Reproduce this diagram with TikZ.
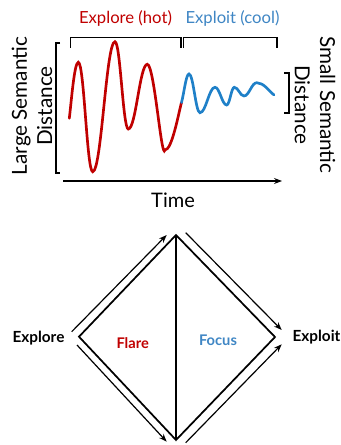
\documentclass[tikz,border=0pt]{standalone}
\usepackage{fontspec}
\setmainfont{Lato}
\usetikzlibrary{arrows.meta}
\definecolor{hot}{HTML}{C00000}
\definecolor{cool}{HTML}{1F80C8}
\definecolor{coolink}{HTML}{3F86C4}

\begin{document}
\begin{tikzpicture}[x=0.75pt,y=-0.75pt,>={Stealth[length=6pt,width=4.5pt]},
  hotline/.style={hot, line width=2pt, line cap=round},
  coolline/.style={cool, line width=2pt, line cap=round},
  bracket/.style={black, line width=0.8pt},
  rim/.style={black, line width=1.3pt, line join=miter},
  flow/.style={black, line width=0.9pt, ->},
  axislabel/.style={font=\fontsize{15.5}{19}\selectfont, align=center}]
        \useasboundingbox (0,0) rectangle (341,445);
        % top chart: labels
        \node[hot, font=\fontsize{12.5}{15}\selectfont] (hotlbl) at (125.5,18) {Explore (hot)};
        \node[coolink, font=\fontsize{12.5}{15}\selectfont] (coollbl) at (232.5,18) {Exploit (cool)};
        \node[axislabel, rotate=90] (large) at (32,106) {Large Semantic\\Distance};
        \node[axislabel, rotate=-90] (small) at (315,105) {Small Semantic\\Distance};
        \node[font=\fontsize{15}{18}\selectfont] (time) at (173,200) {Time};
        % brackets
        \draw[bracket] (70.7,48) -- (70.7,37.5) -- (181,37.5) -- (181,48);
        \draw[bracket] (183.5,48) -- (183.5,37.5) -- (277,37.5) -- (277,48);
        \draw[bracket] (60,43) -- (56,43) -- (56,173) -- (60,173);
        \draw[bracket] (284,73) -- (289,73) -- (289,113) -- (284,113);
        % time axis
        \coordinate (t0) at (63,181);
        \coordinate (t1) at (282,181);
        \draw[bracket, ->] (t0) -- (t1);
        % hot wave, big swings
        \draw[hotline] (69.3,118.3)
          .. controls +(2,-16) and +(-4,0) .. (78.3,62.3)
          .. controls +(5.8,0) and +(-5.8,0) .. (92.7,171.7)
          .. controls +(8.9,0) and +(-8.9,0) .. (115,41.7)
          .. controls +(5.3,0) and +(-5.3,0) .. (128.3,129)
          .. controls +(7.6,0) and +(-7.6,0) .. (147.3,64.3)
          .. controls +(7,0) and +(-3.5,12) .. (165,150)
          .. controls +(7,0) and +(-3,11) .. (181.5,102.5) coordinate (turn);
        % cool wave, small swings
        \draw[coolline] (turn)
          .. controls +(2.5,-9) and +(-3,0) .. (189,74)
          .. controls +(4.4,0) and +(-4.4,0) .. (200,112.7)
          .. controls +(6,0) and +(-6,0) .. (215,87.3)
          .. controls +(4.7,0) and +(-4.7,0) .. (226.7,105)
          .. controls +(3,0) and +(-3,0) .. (234.3,87.3)
          .. controls +(3.9,0) and +(-3.9,0) .. (244,96)
          .. controls +(5,0) and +(-5,0) .. (256.7,82.7)
          .. controls +(7,0) and +(-5,-4) .. (274,95);
        % bottom diamond
        \coordinate (west) at (79,336.7);
        \coordinate (north) at (176,235);
        \coordinate (south) at (176,440);
        \coordinate (east) at (275,337);
        \draw[rim] (west) -- (north) -- (east) -- (south) -- cycle;
        \draw[rim] (north) -- (south);
        \node[font=\bfseries\fontsize{11.5}{14}\selectfont] (explore) at (38.5,338) {Explore};
        \node[font=\bfseries\fontsize{11.5}{14}\selectfont] (exploit) at (316.5,337) {Exploit};
        \node[hot, font=\bfseries\fontsize{11}{13}\selectfont] (flare) at (132.7,342.7) {Flare};
        \node[coolink, font=\bfseries\fontsize{11}{13}\selectfont] (focus) at (218,340.7) {Focus};
        % outer flow arrows
        \coordinate (a1) at (71.7,331.7);
        \coordinate (a2) at (166.7,235);
        \coordinate (b1) at (77,345);
        \coordinate (b2) at (166.7,441.7);
        \coordinate (c1) at (185.7,232.7);
        \coordinate (c2) at (281.7,330);
        \coordinate (d1) at (185.7,442.7);
        \coordinate (d2) at (281.7,344.3);
        \draw[flow] (a1) -- (a2);
        \draw[flow] (b1) -- (b2);
        \draw[flow] (c1) -- (c2);
        \draw[flow] (d1) -- (d2);
      \end{tikzpicture}
\end{document}
